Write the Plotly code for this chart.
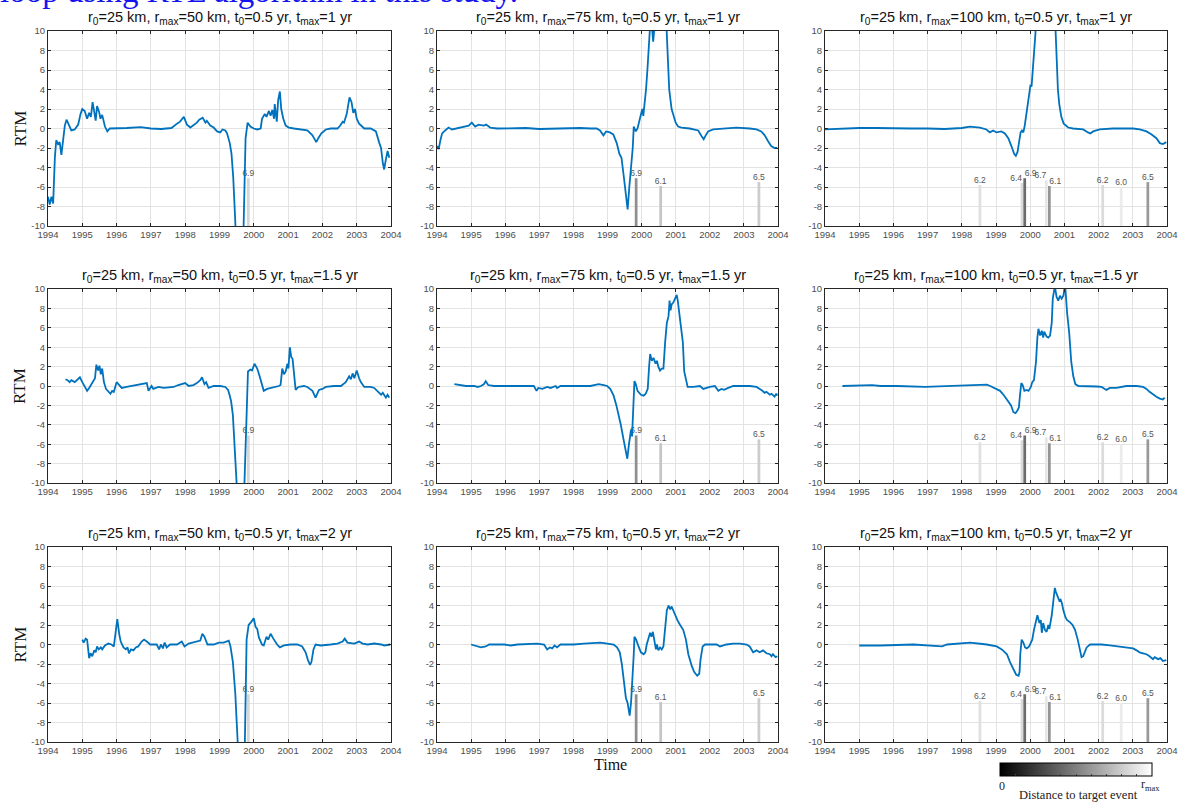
import plotly.graph_objects as go

# ---------------- data ----------------
R0_KM = 25
T0_YR = 0.5
R_MAX_KM = [50, 75, 100]          # columns
T_MAX_YR = ["1", "1.5", "2"]      # rows
X_TICKS = list(range(1994, 2005))
Y_TICKS = list(range(-10, 11, 2))

# target events (time, magnitude, epicentral distance in km)
EVENT_TIME = [1998.53, 1999.76, 1999.84, 2000.47, 2000.56, 2002.12, 2002.66, 2003.44]
EVENT_MAG = [6.2, 6.4, 6.9, 6.7, 6.1, 6.2, 6.0, 6.5]
EVENT_DIST_KM = [88, 85, 42, 90, 58, 86, 92, 60]

# RTM series, row 1 (t_max = 1 yr)
T_R1C1 = [1994.00, 1994.05, 1994.10, 1994.15, 1994.20, 1994.24, 1994.29, 1994.34, 1994.39, 1994.44, 1994.49, 1994.54, 1994.60, 1994.68, 1994.78, 1994.88, 1994.95, 1995.00, 1995.07, 1995.14, 1995.20, 1995.25, 1995.30, 1995.35, 1995.39, 1995.43, 1995.49, 1995.53, 1995.58, 1995.66, 1995.73, 1995.80, 1996.00, 1996.30, 1996.70, 1997.00, 1997.30, 1997.60, 1997.76, 1997.85, 1997.96, 1998.05, 1998.15, 1998.24, 1998.34, 1998.41, 1998.51, 1998.59, 1998.63, 1998.73, 1998.83, 1998.93, 1999.02, 1999.09, 1999.17, 1999.22, 1999.30, 1999.35, 1999.40, 1999.44, 1999.49, 1999.69, 1999.74, 1999.76, 1999.82, 1999.90, 2000.00, 2000.10, 2000.20, 2000.24, 2000.32, 2000.37, 2000.44, 2000.49, 2000.54, 2000.59, 2000.61, 2000.64, 2000.67, 2000.71, 2000.76, 2000.80, 2000.86, 2000.93, 2001.02, 2001.17, 2001.37, 2001.56, 2001.71, 2001.82, 2001.88, 2001.97, 2002.10, 2002.24, 2002.44, 2002.52, 2002.59, 2002.63, 2002.71, 2002.79, 2002.85, 2002.90, 2002.95, 2003.00, 2003.07, 2003.14, 2003.22, 2003.41, 2003.56, 2003.66, 2003.71, 2003.76, 2003.80, 2003.85, 2003.90, 2003.95]
RTM_R1C1 = [-7.0, -7.8, -7.0, -7.7, -3.0, -1.2, -1.6, -1.4, -2.7, -1.1, 0.3, 0.9, 0.4, -0.2, -0.1, 0.4, 1.5, 2.0, 1.8, 1.0, 1.6, 1.2, 2.7, 1.6, 0.8, 2.3, 1.7, 1.0, 1.4, 0.2, -0.3, 0.0, 0.0, 0.05, 0.15, 0.0, -0.05, 0.05, 0.5, 0.7, 1.2, 0.4, 0.1, 0.3, 0.6, 0.9, 1.1, 0.6, 0.8, 0.3, 0.1, -0.3, -0.4, -0.1, -0.2, -0.5, -1.5, -2.6, -5.0, -8.0, -12, -12, -3.0, -1.0, 0.6, 0.2, 0.0, -0.1, 0.0, 1.0, 1.5, 1.2, 1.8, 1.3, 1.9, 1.0, 2.5, 1.8, 0.7, 2.9, 3.8, 2.0, 1.0, 0.3, 0.1, 0.0, -0.1, -0.2, -0.7, -1.4, -1.0, -0.5, -0.1, 0.0, 0.0, 0.3, 0.7, 0.6, 1.5, 3.2, 2.7, 1.6, 2.0, 1.0, 0.5, 0.3, 0.0, 0.0, -0.3, -1.5, -2.0, -3.5, -4.2, -3.2, -2.3, -3.0]

T_R1C2 = [1994.00, 1994.05, 1994.10, 1994.15, 1994.24, 1994.34, 1994.44, 1994.59, 1994.78, 1994.93, 1995.02, 1995.12, 1995.22, 1995.37, 1995.44, 1995.56, 1995.76, 1996.20, 1996.60, 1997.00, 1997.40, 1997.80, 1998.20, 1998.50, 1998.68, 1998.78, 1998.88, 1998.96, 1999.07, 1999.17, 1999.27, 1999.35, 1999.41, 1999.48, 1999.54, 1999.59, 1999.64, 1999.70, 1999.74, 1999.77, 1999.80, 1999.83, 1999.88, 1999.95, 2000.02, 2000.05, 2000.08, 2000.13, 2000.17, 2000.20, 2000.24, 2000.29, 2000.34, 2000.39, 2000.54, 2000.71, 2000.76, 2000.81, 2000.88, 2000.95, 2001.00, 2001.07, 2001.17, 2001.41, 2001.66, 2001.76, 2001.82, 2001.88, 2001.95, 2002.10, 2002.39, 2002.78, 2003.17, 2003.37, 2003.51, 2003.61, 2003.71, 2003.80, 2003.90, 2003.98]
RTM_R1C2 = [-1.8, -2.1, -1.2, -0.5, -0.2, 0.1, -0.1, 0.0, 0.2, 0.3, 0.6, 0.2, 0.4, 0.3, 0.4, 0.1, 0.0, 0.0, 0.05, -0.05, 0.0, 0.0, 0.05, 0.0, 0.0, -0.2, -0.7, -0.3, -0.4, -0.6, -1.5, -2.6, -3.0, -5.0, -7.0, -8.3, -6.0, -4.0, -2.0, 0.2, 0.0, -0.3, 0.0, 1.0, 2.0, 1.3, 2.2, 4.0, 6.0, 8.0, 10.0, 11.0, 8.9, 11.0, 12, 12, 8.0, 4.0, 2.0, 1.2, 0.6, 0.2, 0.1, 0.0, -0.2, -0.8, -1.1, -0.7, -0.3, -0.1, 0.0, 0.1, 0.0, -0.1, -0.3, -0.7, -1.3, -1.8, -2.0, -2.0]

T_R1C3 = [1994.00, 1994.50, 1995.00, 1995.50, 1996.00, 1996.50, 1997.00, 1997.50, 1998.00, 1998.24, 1998.53, 1998.72, 1998.82, 1998.92, 1999.01, 1999.16, 1999.26, 1999.36, 1999.45, 1999.53, 1999.58, 1999.63, 1999.67, 1999.72, 1999.76, 1999.80, 1999.84, 1999.91, 1999.97, 2000.01, 2000.04, 2000.06, 2000.09, 2000.12, 2000.16, 2000.20, 2000.72, 2000.76, 2000.81, 2000.85, 2000.91, 2000.98, 2001.11, 2001.25, 2001.55, 2001.69, 2001.76, 2001.84, 2002.03, 2002.42, 2003.01, 2003.20, 2003.40, 2003.54, 2003.69, 2003.79, 2003.88, 2003.98]
RTM_R1C3 = [-0.1, 0.0, 0.05, 0.05, 0.0, 0.0, 0.0, -0.05, 0.05, 0.2, 0.1, -0.1, -0.4, -0.2, -0.4, -0.3, -0.5, -1.0, -1.8, -2.6, -2.8, -2.4, -1.5, -0.4, -0.2, -0.4, 0.3, 2.0, 3.0, 4.5, 4.3, 5.3, 6.0, 8.0, 10.0, 12, 12, 8.0, 4.0, 2.5, 1.2, 0.5, 0.1, 0.0, -0.1, -0.4, -0.5, -0.3, -0.1, 0.0, 0.0, -0.1, -0.3, -0.6, -1.0, -1.5, -1.6, -1.4]

# row 2 (t_max = 1.5 yr)
T_R2C1 = [1994.51, 1994.57, 1994.63, 1994.68, 1994.78, 1994.85, 1994.93, 1995.00, 1995.07, 1995.14, 1995.20, 1995.27, 1995.32, 1995.37, 1995.41, 1995.46, 1995.50, 1995.54, 1995.58, 1995.63, 1995.69, 1995.76, 1995.82, 1995.87, 1995.92, 1996.00, 1996.08, 1996.15, 1996.29, 1996.44, 1996.68, 1996.88, 1996.93, 1997.02, 1997.07, 1997.22, 1997.37, 1997.66, 1997.80, 1998.00, 1998.10, 1998.24, 1998.34, 1998.44, 1998.49, 1998.56, 1998.61, 1998.68, 1998.83, 1999.02, 1999.17, 1999.25, 1999.30, 1999.34, 1999.39, 1999.44, 1999.49, 1999.53, 1999.71, 1999.78, 1999.83, 1999.90, 1999.95, 2000.02, 2000.10, 2000.17, 2000.24, 2000.29, 2000.39, 2000.54, 2000.73, 2000.78, 2000.83, 2000.88, 2000.93, 2000.98, 2001.01, 2001.05, 2001.09, 2001.13, 2001.17, 2001.22, 2001.30, 2001.46, 2001.56, 2001.71, 2001.80, 2001.85, 2001.90, 2002.00, 2002.10, 2002.34, 2002.54, 2002.68, 2002.78, 2002.83, 2002.88, 2002.93, 2003.00, 2003.07, 2003.12, 2003.22, 2003.41, 2003.51, 2003.61, 2003.71, 2003.76, 2003.85, 2003.90, 2003.95]
RTM_R2C1 = [0.7, 0.6, 0.4, 0.6, 0.4, 0.6, 0.9, 0.4, 0.0, -0.5, -0.2, 0.2, 0.5, 0.8, 2.2, 1.6, 2.1, 1.2, 1.8, 0.4, -0.3, -0.6, -0.8, -0.5, -0.6, 0.4, 0.1, -0.2, -0.1, 0.0, 0.2, 0.3, -0.5, 0.0, -0.3, -0.1, -0.2, -0.1, 0.1, 0.3, 0.0, 0.1, 0.3, 0.6, 0.9, 0.2, 0.4, -0.2, 0.0, 0.0, -0.1, -0.4, -1.0, -1.6, -3.0, -6.0, -10.0, -12, -12, -3.0, 1.5, 1.7, 1.6, 2.3, 1.8, 1.0, 0.0, -0.5, -0.3, -0.2, 0.0, 0.1, 1.8, 1.2, 1.5, 2.3, 1.8, 4.0, 3.0, 2.8, 1.0, -0.4, -0.1, 0.0, -0.1, -0.5, -1.2, -0.8, -0.4, -0.3, -0.1, 0.0, 0.0, 0.4, 1.0, 0.7, 1.3, 0.8, 1.6, 0.8, 0.4, -0.1, -0.1, -0.2, -0.5, -0.9, -0.7, -1.2, -0.9, -1.2]

T_R2C2 = [1994.51, 1994.70, 1994.85, 1995.09, 1995.19, 1995.29, 1995.38, 1995.43, 1995.50, 1995.67, 1996.06, 1996.55, 1996.84, 1996.92, 1996.97, 1997.09, 1997.23, 1997.33, 1997.48, 1997.52, 1997.62, 1998.50, 1998.74, 1998.89, 1998.99, 1999.08, 1999.18, 1999.26, 1999.36, 1999.39, 1999.47, 1999.58, 1999.63, 1999.69, 1999.72, 1999.74, 1999.79, 1999.83, 1999.88, 1999.98, 2000.06, 2000.12, 2000.18, 2000.22, 2000.25, 2000.30, 2000.35, 2000.41, 2000.45, 2000.49, 2000.54, 2000.59, 2000.64, 2000.69, 2000.74, 2000.79, 2000.82, 2000.85, 2000.88, 2000.93, 2000.98, 2001.03, 2001.06, 2001.09, 2001.15, 2001.21, 2001.25, 2001.30, 2001.35, 2001.52, 2001.71, 2001.81, 2001.89, 2002.00, 2002.15, 2002.25, 2002.34, 2002.42, 2002.54, 2002.69, 2003.17, 2003.37, 2003.51, 2003.61, 2003.66, 2003.76, 2003.81, 2003.90, 2003.95, 2003.98]
RTM_R2C2 = [0.2, 0.1, 0.0, 0.0, -0.1, 0.0, 0.2, 0.5, 0.1, 0.0, 0.0, 0.0, 0.0, -0.5, -0.2, -0.3, -0.1, -0.2, 0.0, -0.2, 0.0, 0.0, 0.2, 0.1, 0.0, -0.3, -1.0, -2.0, -3.5, -4.0, -5.5, -7.5, -6.0, -4.5, -5.2, -3.0, 0.5, 0.2, -0.5, -0.9, -1.0, -0.8, -0.3, 2.0, 3.3, 2.6, 2.9, 2.3, 2.6, 2.0, 1.6, 1.8, 1.8, 4.5, 6.5, 7.2, 8.8, 7.8, 8.4, 8.6, 9.0, 9.4, 8.8, 8.0, 6.5, 4.5, 1.5, 0.5, -0.1, -0.1, 0.0, -0.3, -0.2, -0.1, 0.0, -0.5, -0.3, -0.4, -0.2, 0.0, 0.0, -0.1, -0.4, -0.7, -0.6, -0.9, -0.8, -1.1, -0.8, -1.0]

T_R2C3 = [1994.51, 1995.38, 1995.62, 1996.11, 1996.93, 1997.57, 1998.15, 1998.73, 1998.83, 1999.02, 1999.12, 1999.24, 1999.36, 1999.44, 1999.51, 1999.57, 1999.63, 1999.67, 1999.70, 1999.74, 1999.78, 1999.83, 1999.90, 1999.95, 2000.02, 2000.06, 2000.11, 2000.17, 2000.21, 2000.24, 2000.29, 2000.34, 2000.38, 2000.41, 2000.48, 2000.53, 2000.58, 2000.63, 2000.66, 2000.69, 2000.72, 2000.77, 2000.82, 2000.87, 2000.92, 2000.97, 2000.99, 2001.02, 2001.08, 2001.14, 2001.20, 2001.26, 2001.32, 2001.41, 2001.94, 2002.09, 2002.18, 2002.23, 2002.33, 2002.52, 2002.81, 2003.11, 2003.30, 2003.40, 2003.49, 2003.59, 2003.69, 2003.79, 2003.88, 2003.93]
RTM_R2C3 = [0.0, 0.1, 0.0, 0.0, -0.1, 0.0, 0.05, 0.15, 0.0, -0.3, -0.5, -1.0, -1.6, -2.0, -2.7, -2.8, -2.5, -2.2, -1.0, 0.3, 0.1, -0.5, -0.4, -0.5, -0.1, 0.4, 0.6, 2.5, 5.0, 5.9, 5.2, 5.7, 5.0, 5.6, 5.1, 5.0, 5.2, 6.5, 9.0, 10.0, 10.3, 9.2, 8.8, 9.3, 9.0, 9.3, 10.0, 10.5, 7.5, 5.5, 2.5, 1.0, 0.2, 0.0, -0.05, -0.1, -0.3, -0.4, -0.2, -0.2, 0.0, 0.0, -0.1, -0.3, -0.6, -0.9, -1.1, -1.3, -1.4, -1.2]

# row 3 (t_max = 2 yr)
T_R3C1 = [1995.00, 1995.04, 1995.10, 1995.14, 1995.20, 1995.24, 1995.29, 1995.35, 1995.39, 1995.43, 1995.48, 1995.54, 1995.58, 1995.66, 1995.76, 1995.85, 1995.92, 1995.98, 1996.02, 1996.08, 1996.12, 1996.20, 1996.27, 1996.32, 1996.36, 1996.42, 1996.49, 1996.56, 1996.63, 1996.73, 1996.80, 1996.88, 1996.98, 1997.17, 1997.24, 1997.29, 1997.35, 1997.40, 1997.46, 1997.56, 1997.76, 1997.90, 1997.98, 1998.10, 1998.34, 1998.44, 1998.50, 1998.56, 1998.65, 1998.83, 1998.98, 1999.12, 1999.27, 1999.32, 1999.39, 1999.46, 1999.53, 1999.57, 1999.71, 1999.74, 1999.79, 1999.85, 1999.92, 2000.00, 2000.05, 2000.10, 2000.15, 2000.24, 2000.29, 2000.37, 2000.42, 2000.49, 2000.57, 2000.63, 2000.68, 2000.76, 2000.88, 2001.07, 2001.27, 2001.41, 2001.51, 2001.58, 2001.64, 2001.68, 2001.74, 2001.80, 2001.95, 2002.24, 2002.44, 2002.59, 2002.65, 2002.73, 2002.93, 2003.07, 2003.17, 2003.32, 2003.51, 2003.71, 2003.80, 2003.98]
RTM_R3C1 = [0.5, 0.2, 0.6, 0.5, -1.4, -0.9, -1.2, -0.6, -0.8, -0.2, -0.5, -0.3, -0.5, -0.1, 0.1, 0.0, -0.2, 1.5, 2.6, 1.0, 0.3, -0.3, -0.5, -0.3, -0.9, -0.5, -0.6, -0.3, -0.2, 0.3, 0.5, 0.3, 0.0, 0.0, -0.5, 0.0, -0.4, 0.2, -0.3, 0.0, 0.0, 0.3, -0.2, 0.1, 0.3, 0.4, 1.1, 0.8, 0.0, 0.0, 0.2, 0.2, 0.4, -0.2, -1.8, -5.0, -10.0, -12, -12, -10, 0.5, 2.0, 2.3, 2.7, 1.8, 1.6, 0.7, 0.0, -0.1, 0.8, 0.5, 1.1, 0.6, 0.2, 0.0, -0.3, -0.1, 0.0, 0.0, -0.2, -0.8, -1.6, -2.1, -1.8, -0.5, 0.0, -0.1, 0.0, 0.1, 0.3, 0.6, 0.2, 0.1, 0.3, 0.1, 0.0, 0.1, 0.0, -0.1, 0.0]

T_R3C2 = [1995.00, 1995.17, 1995.29, 1995.43, 1995.53, 1995.97, 1996.16, 1996.36, 1996.75, 1996.94, 1997.14, 1997.23, 1997.31, 1997.38, 1997.45, 1997.52, 1997.62, 1998.01, 1998.30, 1998.79, 1998.99, 1999.18, 1999.28, 1999.36, 1999.42, 1999.47, 1999.54, 1999.59, 1999.65, 1999.69, 1999.73, 1999.77, 1999.79, 1999.84, 1999.91, 1999.98, 2000.06, 2000.11, 2000.15, 2000.20, 2000.25, 2000.29, 2000.33, 2000.37, 2000.42, 2000.45, 2000.49, 2000.54, 2000.59, 2000.64, 2000.69, 2000.74, 2000.79, 2000.84, 2000.88, 2000.93, 2000.98, 2001.05, 2001.13, 2001.22, 2001.30, 2001.37, 2001.47, 2001.54, 2001.63, 2001.69, 2001.73, 2001.79, 2001.86, 2002.20, 2002.30, 2002.39, 2002.49, 2002.69, 2002.88, 2003.08, 2003.17, 2003.27, 2003.37, 2003.46, 2003.56, 2003.66, 2003.76, 2003.81, 2003.85, 2003.93, 2003.98]
RTM_R3C2 = [0.0, -0.2, -0.3, -0.2, 0.0, 0.0, -0.1, 0.0, 0.1, 0.1, 0.0, -0.5, -0.3, -0.4, -0.1, -0.3, 0.0, 0.0, 0.1, 0.2, 0.1, 0.0, -0.3, -0.8, -2.0, -3.5, -5.5, -6.0, -7.3, -6.0, -4.0, -1.0, 0.8, 0.5, -0.2, -0.8, -1.0, -0.8, 0.0, 0.7, 1.2, 0.8, 1.3, 0.5, -0.5, 0.0, -0.6, -0.3, -0.5, -0.2, 2.0, 3.5, 4.0, 3.6, 3.9, 3.5, 3.0, 2.5, 2.0, 1.5, 0.5, -1.0, -2.2, -2.8, -3.2, -3.0, -1.5, -0.2, 0.0, 0.0, -0.2, -0.1, 0.0, 0.1, 0.1, 0.0, -0.2, -0.8, -0.6, -0.8, -0.6, -0.9, -1.0, -1.2, -1.0, -1.3, -1.2]

T_R3C3 = [1995.00, 1995.62, 1996.59, 1997.42, 1997.57, 1998.05, 1998.25, 1998.73, 1999.02, 1999.17, 1999.32, 1999.41, 1999.51, 1999.59, 1999.66, 1999.69, 1999.71, 1999.75, 1999.80, 1999.85, 1999.90, 1999.97, 2000.02, 2000.06, 2000.11, 2000.14, 2000.21, 2000.27, 2000.31, 2000.34, 2000.38, 2000.43, 2000.48, 2000.53, 2000.56, 2000.63, 2000.68, 2000.72, 2000.75, 2000.79, 2000.85, 2000.89, 2000.93, 2000.97, 2001.03, 2001.08, 2001.16, 2001.24, 2001.31, 2001.39, 2001.45, 2001.50, 2001.55, 2001.60, 2001.65, 2001.75, 2002.09, 2002.33, 2002.52, 2002.81, 2003.01, 2003.11, 2003.20, 2003.30, 2003.40, 2003.49, 2003.59, 2003.64, 2003.74, 2003.81, 2003.88, 2003.98]
RTM_R3C3 = [-0.1, -0.1, 0.0, -0.2, 0.0, 0.1, 0.2, 0.0, -0.2, -0.5, -1.0, -1.8, -2.5, -3.1, -3.2, -2.8, -1.0, 0.5, 0.2, -0.3, -0.4, -0.2, 0.2, 0.5, 1.5, 2.0, 3.0, 2.2, 2.5, 1.2, 2.2, 1.5, 1.3, 2.0, 1.6, 3.0, 4.5, 5.8, 5.4, 5.0, 4.5, 4.6, 4.2, 3.5, 2.8, 2.5, 2.3, 2.0, 1.5, 0.5, -0.5, -1.3, -1.2, -0.8, -0.3, 0.0, 0.0, -0.1, -0.2, -0.3, -0.4, -0.6, -0.8, -0.9, -1.0, -1.2, -1.5, -1.3, -1.5, -1.4, -1.7, -1.6]

SERIES = [
    [(T_R1C1, RTM_R1C1), (T_R1C2, RTM_R1C2), (T_R1C3, RTM_R1C3)],
    [(T_R2C1, RTM_R2C1), (T_R2C2, RTM_R2C2), (T_R2C3, RTM_R2C3)],
    [(T_R3C1, RTM_R3C1), (T_R3C2, RTM_R3C2), (T_R3C3, RTM_R3C3)],
]
for row in SERIES:
    for t, v in row:
        assert len(t) == len(v), (len(t), len(v))

# ---------------- layout / style constants ----------------
W, H = 1180, 803
PAGE_PAD = 0            # body margin is reset to 0 by the post script below
COL_PX = [(48, 391), (437, 778), (825, 1167)]      # screen pixels
ROW_PX = [(31, 226), (289, 483), (547, 742)]
BAR_BASE = -10          # event bars drawn from the bottom of the axis
MAG_SHIFT = 12          # bar top = magnitude - 12
LABEL_POS = ["top center", "top left", "top right", "top left", "top right",
             "top center", "top center", "top center"]
LINE_BLUE = "#0072BD"
FRAME = "#262626"
GRID = "#e3e3e3"
SANS = "Liberation Sans, Arial, sans-serif"
SERIF = "Liberation Serif, Times New Roman, serif"
TICK_FONT = dict(family=SANS, size=9.5, color="#4d4d4d")
GRAY_SCALE = [[0, "rgb(0,0,0)"], [1, "rgb(255,255,255)"]]
CBAR_PX = (1000, 1152, 763, 776)   # left, right, top, bottom (screen pixels)


def px_x(p):
    return (p - PAGE_PAD) / W


def px_y(p):
    return 1 - (p - PAGE_PAD) / H


fig = go.Figure()
annotations = []
layout_axes = {}

for r in range(3):
    for c in range(3):
        k = r * 3 + c + 1
        xa = "x" if k == 1 else f"x{k}"
        ya = "y" if k == 1 else f"y{k}"
        rmax = R_MAX_KM[c]
        sel = [i for i in range(len(EVENT_TIME)) if EVENT_DIST_KM[i] <= rmax]
        ev_t = [EVENT_TIME[i] for i in sel]
        ev_m = [EVENT_MAG[i] for i in sel]
        ev_top = [m - MAG_SHIFT for m in ev_m]
        ev_col = [EVENT_DIST_KM[i] / rmax for i in sel]
        ev_pos = [LABEL_POS[i] for i in sel] if c == 2 else ["top center"] * len(sel)
        last = (k == 9)
        bar_marker = dict(color=ev_col, colorscale=GRAY_SCALE, cmin=0, cmax=1,
                          line=dict(width=0), showscale=last)
        if last:
            bar_marker["colorbar"] = dict(
                orientation="h", x=px_x((CBAR_PX[0] + CBAR_PX[1]) / 2), xanchor="center",
                y=px_y(CBAR_PX[2]), yanchor="top", len=CBAR_PX[1] - CBAR_PX[0], lenmode="pixels",
                thickness=CBAR_PX[3] - CBAR_PX[2], thicknessmode="pixels", xpad=0, ypad=0,
                outlinewidth=1, outlinecolor="black",
                tickvals=[i / 10 for i in range(1, 10)],
                ticks="inside", ticklen=2, tickcolor="#444", showticklabels=False,
            )
        fig.add_trace(go.Bar(x=ev_t, y=[tp - BAR_BASE for tp in ev_top], base=BAR_BASE,
                             width=0.08, marker=bar_marker, xaxis=xa, yaxis=ya,
                             hoverinfo="skip"))
        fig.add_trace(go.Scatter(x=ev_t, y=ev_top, mode="text",
                                 text=[f"{m:.1f}" for m in ev_m], textposition=ev_pos,
                                 textfont=dict(family=SANS, size=8.5, color="#555"),
                                 xaxis=xa, yaxis=ya, hoverinfo="skip"))
        t, v = SERIES[r][c]
        fig.add_trace(go.Scatter(x=t, y=v, mode="lines",
                                 line=dict(color=LINE_BLUE, width=1.8),
                                 xaxis=xa, yaxis=ya))

        x0, x1 = COL_PX[c]
        y0, y1 = ROW_PX[r]
        axname_x = "xaxis" if k == 1 else f"xaxis{k}"
        axname_y = "yaxis" if k == 1 else f"yaxis{k}"
        common = dict(showline=True, linecolor=FRAME, linewidth=1, mirror="ticks",
                      ticks="inside", ticklen=3, tickcolor=FRAME, showgrid=True,
                      gridcolor=GRID, gridwidth=1, zeroline=False, tickfont=TICK_FONT,
                      fixedrange=True, automargin=False)
        layout_axes[axname_x] = dict(domain=[px_x(x0), px_x(x1)], range=[1994, 2004],
                                     tickvals=X_TICKS, ticktext=[str(x) for x in X_TICKS],
                                     anchor=ya, **common)
        layout_axes[axname_y] = dict(domain=[px_y(y1), px_y(y0)], range=[-10, 10],
                                     tickvals=Y_TICKS, ticktext=[str(y) for y in Y_TICKS],
                                     anchor=xa, **common)
        title = (f"r<sub>0</sub>={R0_KM} km, r<sub>max</sub>={rmax} km, "
                 f"t<sub>0</sub>={T0_YR} yr, t<sub>max</sub>={T_MAX_YR[r]} yr")
        annotations.append(dict(text=title, x=px_x((x0 + x1) / 2), y=px_y(y0 - 2),
                                xanchor="center", yanchor="bottom",
                                font=dict(family=SANS, size=14.5, color="#111")))
    annotations.append(dict(text="RTM", x=px_x(20), y=px_y((ROW_PX[r][0] + ROW_PX[r][1]) / 2),
                            xanchor="center", yanchor="middle", textangle=-90,
                            font=dict(family=SERIF, size=17, color="#111")))

annotations += [
    dict(text="Time", x=px_x(610), y=px_y(764), xanchor="center", yanchor="middle",
         font=dict(family=SERIF, size=16, color="#111")),
    dict(text="loop using RTL algorithm in this study.", x=px_x(-2), y=px_y(11),
         xanchor="left", yanchor="bottom",
         font=dict(family=SERIF, size=33, color="#1414f0")),
    dict(text="0", x=px_x(CBAR_PX[0] + 2), y=px_y(786), xanchor="center", yanchor="middle",
         font=dict(family=SERIF, size=12, color="#222")),
    dict(text="r<sub>max</sub>", x=px_x(CBAR_PX[1] - 2), y=px_y(785), xanchor="center", yanchor="middle",
         font=dict(family=SERIF, size=12, color="#222")),
    dict(text="Distance to target event", x=px_x(1078), y=px_y(795), xanchor="center", yanchor="middle",
         font=dict(family=SERIF, size=12.5, color="#222")),
]
for a in annotations:
    a.setdefault("xref", "paper")
    a.setdefault("yref", "paper")
    a.setdefault("showarrow", False)

fig.update_layout(width=W, height=H, margin=dict(l=0, r=0, t=0, b=0, autoexpand=False),
                  paper_bgcolor="white", plot_bgcolor="white", showlegend=False,
                  annotations=annotations, barmode="overlay", **layout_axes)

fig.write_html("out.html", config={"displayModeBar": False, "staticPlot": True},
               post_script="document.body.style.margin='0px';")
